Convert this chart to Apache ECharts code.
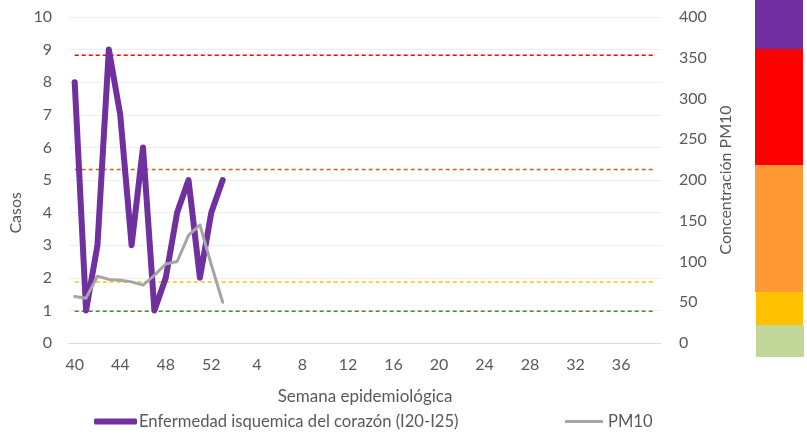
<!DOCTYPE html>
<html>
<head>
<meta charset="utf-8">
<script src="https://cdn.jsdelivr.net/npm/echarts@6/dist/echarts.min.js"></script>
<style>html,body{margin:0;padding:0;background:#fff}#c{width:807px;height:434px}</style>
</head>
<body>
<div id="c"></div>
<script>
// Semanas epidemiológicas (40-52, luego 1-39)
const weeks = [40,41,42,43,44,45,46,47,48,49,50,51,52,1,2,3,4,5,6,7,8,9,10,11,12,13,14,15,16,17,18,19,20,21,22,23,24,25,26,27,28,29,30,31,32,33,34,35,36,37,38,39];
const casos = [8,1,3,9,7,3,6,1,2,4,5,2,4,5];
const pm10 = [57,55,82,78,77,75,71,83,97,100,132,145,96,50];
const umbrales = [353, 213, 75, 39];
const umbralColores = ['#FF0000', '#D0621A', '#FFC000', '#4E8A2A'];
const leftTicks = [0,10,1];
const rightTicks = [0,400,50];
const serieCasos = 'Enfermedad isquemica del corazón (I20-I25)';
const seriePM = 'PM10';

const font = 'Lato, "Open Sans", sans-serif';
const txt = '#595959';
const cats = weeks.map(String);

// Líneas de umbral: una serie horizontal por umbral, a lo largo de todas las semanas
const thresholdSeries = umbrales.map((v, i) => ({
  name: 'umbral' + i, type: 'line', yAxisIndex: 1, z: 1, silent: true,
  data: cats.map(() => v), symbol: 'none',
  itemStyle: {color: umbralColores[i]},
  lineStyle: {color: umbralColores[i], type: [4, 3], width: 1.5},
  emphasis: {disabled: true}
}));

const chart = echarts.init(document.getElementById('c'), null, {renderer: 'canvas'});
chart.setOption({
  animation: false,
  textStyle: {fontFamily: font},
  grid: {left: 69, right: 146, top: 17, bottom: 91},
  legend: [
    {data: [serieCasos], left: 89, top: 408, icon: 'roundRect', itemWidth: 43, itemHeight: 6, itemGap: 4,
     textStyle: {color: txt, fontSize: 16.6, fontFamily: font, padding: [0, 0, 0, -3]}},
    {data: [seriePM], left: 560, top: 408, icon: 'rect', itemWidth: 38, itemHeight: 3,
     textStyle: {color: txt, fontSize: 16.6, fontFamily: font}}
  ],
  xAxis: {
    type: 'category', data: cats, boundaryGap: true,
    name: 'Semana epidemiológica', nameLocation: 'middle', nameGap: 45,
    nameTextStyle: {color: txt, fontSize: 17, fontFamily: font},
    axisLine: {lineStyle: {color: '#D9D9D9', width: 1}},
    axisTick: {show: false},
    axisLabel: {interval: 3, color: txt, fontSize: 16, margin: 14, fontFamily: font},
    splitLine: {show: false}
  },
  yAxis: [
    {type: 'value', min: leftTicks[0], max: leftTicks[1], interval: leftTicks[2],
     axisLine: {show: false}, axisTick: {show: false},
     axisLabel: {color: txt, fontSize: 16, margin: 17, fontFamily: font},
     splitLine: {lineStyle: {color: '#EEEEEE', width: 1}}},
    {type: 'value', min: rightTicks[0], max: rightTicks[1], interval: rightTicks[2],
     name: 'Concentración PM10', nameLocation: 'middle', nameGap: 57, nameRotate: 90,
     nameTextStyle: {color: txt, fontSize: 16, fontFamily: font},
     axisLine: {show: false}, axisTick: {show: false},
     axisLabel: {color: txt, fontSize: 16, margin: 18, fontFamily: font},
     splitLine: {show: false}}
  ],
  graphic: [
    {type: 'text', left: 8, top: 192, rotation: Math.PI/2,
     style: {text: 'Casos', fill: txt, font: '16px ' + font}},
    {type: 'rect', shape: {x: 755, y: 0, width: 48, height: 49}, style: {fill: '#7030A0'}},
    {type: 'rect', shape: {x: 755, y: 49, width: 48, height: 116}, style: {fill: '#FF0000'}},
    {type: 'rect', shape: {x: 755, y: 165, width: 48, height: 127}, style: {fill: '#FF9933'}},
    {type: 'rect', shape: {x: 756, y: 292, width: 47, height: 33}, style: {fill: '#FFC000'}},
    {type: 'rect', shape: {x: 756, y: 325, width: 48, height: 32}, style: {fill: '#C4D79B'}}
  ],
  series: thresholdSeries.concat([
    {name: serieCasos, type: 'line', yAxisIndex: 0, data: casos, symbol: 'none', z: 2,
     itemStyle: {color: '#7030A0'},
     lineStyle: {color: '#7030A0', width: 6, cap: 'round', join: 'round'}},
    {name: seriePM, type: 'line', yAxisIndex: 1, data: pm10, symbol: 'none', z: 3,
     itemStyle: {color: '#A5A5A5'},
     lineStyle: {color: '#A5A5A5', width: 3, cap: 'round', join: 'round'}}
  ])
});
</script>
</body>
</html>
